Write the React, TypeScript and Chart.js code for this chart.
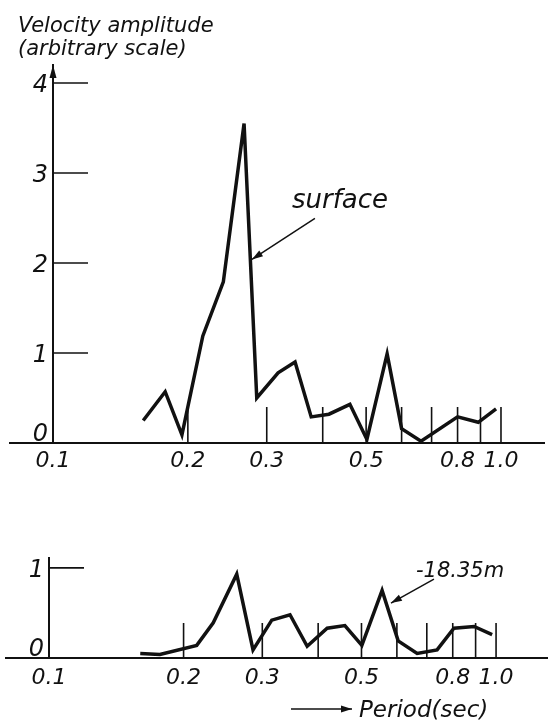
import React, { useEffect, useRef } from "react";
import { Chart, registerables } from "chart.js";

Chart.register(...registerables);

// ---- data (period in seconds, velocity amplitude on arbitrary scale) ----
const surfacePeriods = [0.159, 0.178, 0.194, 0.216, 0.24, 0.267, 0.285, 0.318, 0.347, 0.377, 0.413, 0.46, 0.502, 0.557, 0.6, 0.663, 0.8, 0.89, 0.975];
const surfaceAmps = [0.25, 0.57, 0.09, 1.19, 1.79, 3.55, 0.5, 0.78, 0.9, 0.29, 0.32, 0.43, 0.04, 0.99, 0.16, 0.02, 0.29, 0.23, 0.38];

const deepPeriods = [0.16, 0.177, 0.214, 0.233, 0.263, 0.286, 0.315, 0.346, 0.378, 0.419, 0.459, 0.501, 0.556, 0.604, 0.666, 0.738, 0.805, 0.893, 0.98];
const deepAmps = [0.05, 0.04, 0.14, 0.39, 0.93, 0.09, 0.42, 0.48, 0.13, 0.33, 0.36, 0.14, 0.75, 0.19, 0.05, 0.09, 0.33, 0.35, 0.26];

const xTickValues = [0.1, 0.2, 0.3, 0.4, 0.5, 0.6, 0.7, 0.8, 0.9, 1.0];
const xLabelledTicks = [0.1, 0.2, 0.3, 0.5, 0.8, 1.0];
const topYTicks = [0, 1, 2, 3, 4];
const bottomYTicks = [0, 1];

const titleLines = ["Velocity amplitude", "(arbitrary scale)"];
const surfaceLabel = "surface";
const deepLabel = "-18.35m";
const xAxisTitle = "Period(sec)";

const INK = "#111";
const FONT = "'DejaVu Sans', 'Liberation Sans', sans-serif";

function arrowLine(ctx: CanvasRenderingContext2D, x1: number, y1: number, x2: number, y2: number, head = 11, half = 3.5) {
  ctx.beginPath();
  ctx.moveTo(x1, y1);
  ctx.lineTo(x2, y2);
  ctx.stroke();
  const a = Math.atan2(y2 - y1, x2 - x1);
  const bx = x2 - head * Math.cos(a);
  const by = y2 - head * Math.sin(a);
  ctx.beginPath();
  ctx.moveTo(x2, y2);
  ctx.lineTo(bx + half * Math.sin(a), by - half * Math.cos(a));
  ctx.lineTo(bx - half * Math.sin(a), by + half * Math.cos(a));
  ctx.closePath();
  ctx.fill();
}

const decorPlugin = {
  id: "decor",
  afterDraw(chart: any, _args: any, opts: any) {
    const ctx: CanvasRenderingContext2D = chart.ctx;
    const xs = chart.scales.x;
    const ys = chart.scales.y;
    const { left, top } = chart.chartArea;
    const y0 = ys.getPixelForValue(0);
    ctx.save();
    ctx.strokeStyle = INK;
    ctx.fillStyle = INK;
    ctx.lineCap = "butt";

    // baseline continues left of the amplitude axis
    ctx.lineWidth = 2;
    ctx.beginPath();
    ctx.moveTo(opts.baselineStart, y0);
    ctx.lineTo(left, y0);
    ctx.stroke();

    // period tick marks standing up from the baseline
    ctx.lineWidth = 1.6;
    xs.ticks.forEach((t: any) => {
      if (t.value <= xs.min + 1e-9) return;
      const px = xs.getPixelForValue(t.value);
      ctx.beginPath();
      ctx.moveTo(px, y0);
      ctx.lineTo(px, y0 - opts.xTickLen);
      ctx.stroke();
    });

    // amplitude tick marks pointing into the plot
    ys.ticks.forEach((t: any) => {
      if (t.value === 0) return;
      const py = ys.getPixelForValue(t.value);
      ctx.beginPath();
      ctx.moveTo(left, py);
      ctx.lineTo(left + opts.yTickLen, py);
      ctx.stroke();
    });

    // amplitude tick labels
    ctx.font = `italic 24px ${FONT}`;
    ctx.textAlign = "right";
    ctx.textBaseline = "alphabetic";
    ys.ticks.forEach((t: any) => {
      const py = ys.getPixelForValue(t.value);
      const yy = t.value === 0 ? py - 2 : py + 9;
      ctx.fillText(String(t.value), left - 5, yy);
    });

    // arrow head at the top of the amplitude axis
    if (opts.yArrow) {
      ctx.beginPath();
      ctx.moveTo(left, top);
      ctx.lineTo(left - 3.5, top + 13);
      ctx.lineTo(left + 3.5, top + 13);
      ctx.closePath();
      ctx.fill();
    }

    // curve annotation (label + arrow)
    if (opts.note) {
      const n = opts.note;
      const tx = xs.getPixelForValue(n.at[0]);
      const ty = ys.getPixelForValue(n.at[1]);
      ctx.lineWidth = 1.5;
      arrowLine(ctx, tx + n.tail[0], ty + n.tail[1], tx, ty);
      ctx.font = `italic ${n.size}px ${FONT}`;
      ctx.textAlign = "left";
      ctx.fillText(n.text, tx + n.textAt[0], ty + n.textAt[1]);
    }

    // free text lines (titles)
    (opts.texts || []).forEach((t: any) => {
      ctx.font = `italic ${t.size}px ${FONT}`;
      ctx.textAlign = "left";
      ctx.textBaseline = "alphabetic";
      ctx.fillText(t.text, t.x, t.y);
    });

    if (opts.axisArrow) {
      const a = opts.axisArrow;
      ctx.lineWidth = 1.5;
      arrowLine(ctx, a.x1, a.y, a.x2, a.y, 11, 3.5);
    }
    ctx.restore();
  },
};

function makeConfig(p: any): any {
  return {
    type: "line",
    data: {
      datasets: [
        {
          data: p.periods.map((x: number, i: number) => ({ x, y: p.amps[i] })),
          borderColor: INK,
          borderWidth: 3.5,
          pointRadius: 0,
          tension: 0,
          borderJoinStyle: "miter",
          fill: false,
        },
      ],
    },
    options: {
      responsive: false,
      animation: false,
      devicePixelRatio: 1,
      layout: { padding: { top: p.padTop, right: p.padRight, left: 0, bottom: 0 } },
      plugins: { legend: { display: false }, tooltip: { enabled: false }, decor: p.decor },
      scales: {
        x: {
          type: "logarithmic",
          min: 0.1,
          max: p.xMax,
          afterBuildTicks: (s: any) => {
            s.ticks = xTickValues.map((v) => ({ value: v }));
          },
          afterFit: (s: any) => {
            s.height = p.xAxisHeight;
          },
          grid: { display: false, drawTicks: false },
          border: { display: true, color: INK, width: 2 },
          ticks: {
            autoSkip: false,
            maxRotation: 0,
            padding: p.labelPad,
            color: INK,
            font: { family: FONT, size: 22, style: "italic" },
            callback: (v: any) => (xLabelledTicks.some((l) => Math.abs(l - Number(v)) < 1e-6) ? Number(v).toFixed(1) : ""),
          },
        },
        y: {
          type: "linear",
          min: 0,
          max: p.yMax,
          afterBuildTicks: (s: any) => {
            s.ticks = p.yTicks.map((v: number) => ({ value: v }));
          },
          afterFit: (s: any) => {
            s.width = p.yAxisWidth;
          },
          grid: { display: false, drawTicks: false },
          border: { display: true, color: INK, width: 2 },
          ticks: { display: false },
        },
      },
    },
    plugins: [decorPlugin],
  };
}

export default function App() {
  const topRef = useRef<HTMLCanvasElement>(null);
  const botRef = useRef<HTMLCanvasElement>(null);

  useEffect(() => {
    const c1 = new Chart(
      topRef.current as HTMLCanvasElement,
      makeConfig({
        periods: surfacePeriods,
        amps: surfaceAmps,
        yMax: 4.2,
        yTicks: topYTicks,
        yAxisWidth: 53,
        xMax: 1.25,
        padTop: 65,
        padRight: 3.6,
        xAxisHeight: 47,
        labelPad: 5,
        decor: {
          baselineStart: 9,
          xTickLen: 36,
          yTickLen: 35,
          yArrow: true,
          note: { text: surfaceLabel, at: [0.278, 2.04], tail: [63, -41], textAt: [40, -51], size: 26 },
          texts: [
            { text: titleLines[0], x: 18, y: 32, size: 21 },
            { text: titleLines[1], x: 18, y: 55, size: 21 },
          ],
        },
      })
    );
    const c2 = new Chart(
      botRef.current as HTMLCanvasElement,
      makeConfig({
        periods: deepPeriods,
        amps: deepAmps,
        yMax: 1.11,
        yTicks: bottomYTicks,
        yAxisWidth: 49,
        xMax: 1.3,
        padTop: 68,
        padRight: 1,
        xAxisHeight: 62,
        labelPad: 7,
        decor: {
          baselineStart: 5,
          xTickLen: 35,
          yTickLen: 35,
          yArrow: false,
          note: { text: deepLabel, at: [0.582, 0.61], tail: [43, -24], textAt: [25, -26], size: 21 },
          texts: [{ text: xAxisTitle, x: 359, y: 227, size: 23 }],
          axisArrow: { x1: 291, x2: 352, y: 219 },
        },
      })
    );
    return () => {
      c1.destroy();
      c2.destroy();
    };
  }, []);

  return (
    <div style={{ position: "absolute", left: 0, top: 0, width: 548, height: 720, background: "#fff" }}>
      <canvas ref={topRef} width={548} height={490} style={{ position: "absolute", left: 0, top: 0, width: 548, height: 490 }} />
      <canvas ref={botRef} width={548} height={230} style={{ position: "absolute", left: 0, top: 490, width: 548, height: 230 }} />
    </div>
  );
}
